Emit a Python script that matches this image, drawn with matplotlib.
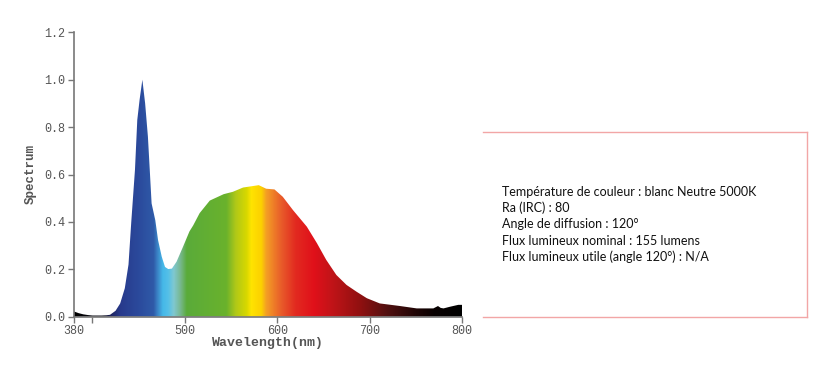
import numpy as np
import matplotlib
matplotlib.use("Agg")
import matplotlib.pyplot as plt
from matplotlib.colors import to_rgb
from matplotlib.patches import PathPatch
from matplotlib.lines import Line2D

# ---- data ----
wavelength = [380, 385, 390, 395, 400, 405, 410, 415, 419, 425, 430, 435, 439, 442,
              446, 448.5, 451, 454, 457, 460, 462, 464, 468, 471, 475, 478.5, 482,
              486, 491, 498, 505, 509, 516, 527, 542, 552, 563, 580, 588, 597, 606,
              617, 632, 643, 653, 664, 675, 686, 697, 711, 733, 751, 769, 774, 777,
              780, 787, 796, 800]
spectrum = [0.022, 0.015, 0.010, 0.007, 0.005, 0.005, 0.005, 0.006, 0.008, 0.025,
            0.056, 0.120, 0.220, 0.400, 0.620, 0.830, 0.915, 1.000, 0.900, 0.760,
            0.620, 0.478, 0.407, 0.323, 0.253, 0.210, 0.201, 0.203, 0.232, 0.295,
            0.360, 0.385, 0.437, 0.490, 0.517, 0.527, 0.545, 0.555, 0.540, 0.537,
            0.506, 0.450, 0.380, 0.310, 0.240, 0.176, 0.134, 0.105, 0.078, 0.056,
            0.045, 0.035, 0.035, 0.045, 0.037, 0.035, 0.042, 0.050, 0.050]

xticks = [380, 400, 500, 600, 700, 800]
xtick_labels = ["380", "", "500", "600", "700", "800"]
yticks = [0.0, 0.2, 0.4, 0.6, 0.8, 1.0, 1.2]
ytick_labels = ["0.0", "0.2", "0.4", "0.6", "0.8", "1.0", "1.2"]

info_lines = [
    "Température de couleur : blanc Neutre 5000K",
    "Ra (IRC) : 80",
    "Angle de diffusion : 120°",
    "Flux lumineux nominal : 155 lumens",
    "Flux lumineux utile (angle 120°) : N/A",
]

# wavelength -> colour anchors for the spectral fill
grad_wl = [380, 412, 420, 430, 450, 466, 470, 476, 482, 488, 495, 502, 545, 555,
           567, 572, 583, 588, 597, 605, 620, 640, 660, 690, 720, 750, 770, 800]
grad_col = ["#000000", "#0a0a1a", "#1e2460", "#283a8c", "#2b4a9c", "#2f5aa8",
            "#3a80c4", "#45b8e8", "#55c0e8", "#80c8d0", "#78b890", "#5aab3a",
            "#6ab22c", "#b0c818", "#d8d800", "#ffe400", "#fcd000", "#f4a024",
            "#ee7a28", "#e85a2a", "#e22a20", "#e0101a", "#c01418", "#901010",
            "#501010", "#200505", "#080000", "#000000"]

# ---- figure ----
fig = plt.figure(figsize=(8.2, 3.69), dpi=100)
L, R, B, T = 74 / 820, 462 / 820, 1 - 316.7 / 369, 1 - 32.3 / 369
ax = fig.add_axes([L, B, R - L, T - B])

ax.set_xlim(380, 800)
ax.set_ylim(0, 1.2)

xs = np.linspace(380, 800, 841)
rgb = np.array([to_rgb(c) for c in grad_col])
img = np.stack([np.interp(xs, grad_wl, rgb[:, i]) for i in range(3)], axis=-1)
im = ax.imshow(img[np.newaxis, :, :], extent=[380, 800, 0, 1.2], aspect="auto",
               interpolation="bilinear", origin="lower", zorder=1)
poly = ax.fill_between(wavelength, spectrum, 0, facecolor="none", edgecolor="none")
clip = PathPatch(poly.get_paths()[0], transform=ax.transData, facecolor="none",
                 edgecolor="none")
ax.add_patch(clip)
im.set_clip_path(clip)

mono = "Liberation Mono"
ax.set_xticks(xticks)
ax.set_xticklabels(xtick_labels, fontfamily=mono, fontsize=8.5, color="#555555")
ax.set_yticks(yticks)
ax.set_yticklabels(ytick_labels, fontfamily=mono, fontsize=8.5, color="#555555")
ax.tick_params(axis="both", direction="out", length=4, width=1, color="#777777", pad=2)
for s in ["top", "right"]:
    ax.spines[s].set_visible(False)
for s in ["left", "bottom"]:
    ax.spines[s].set_color("#777777")
    ax.spines[s].set_linewidth(1.2)

ax.set_xlabel("Wavelength(nm)", fontfamily=mono, fontsize=9.5, fontweight="bold",
              color="#555555", labelpad=0)
ax.set_ylabel("Spectrum", fontfamily=mono, fontsize=9, fontweight="bold",
              color="#555555", labelpad=6)

# ---- info box ----
bx0, bx1 = 483 / 820, 807 / 820
by0, by1 = 1 - 317 / 369, 1 - 132 / 369
box_col = "#f2a6a6"
fig.add_artist(Line2D([bx0, bx1], [by1, by1], color=box_col, lw=1))
fig.add_artist(Line2D([bx0, bx1], [by0, by0], color=box_col, lw=1))
fig.add_artist(Line2D([bx1, bx1], [by0, by1], color=box_col, lw=1))

for i, line in enumerate(info_lines):
    y = 192 + i * 16.2
    fig.text(502 / 820, 1 - y / 369, line, fontfamily="Lato", fontsize=9.0,
             color="#111111", va="center", ha="left")

fig.savefig("out.png", dpi=100)
